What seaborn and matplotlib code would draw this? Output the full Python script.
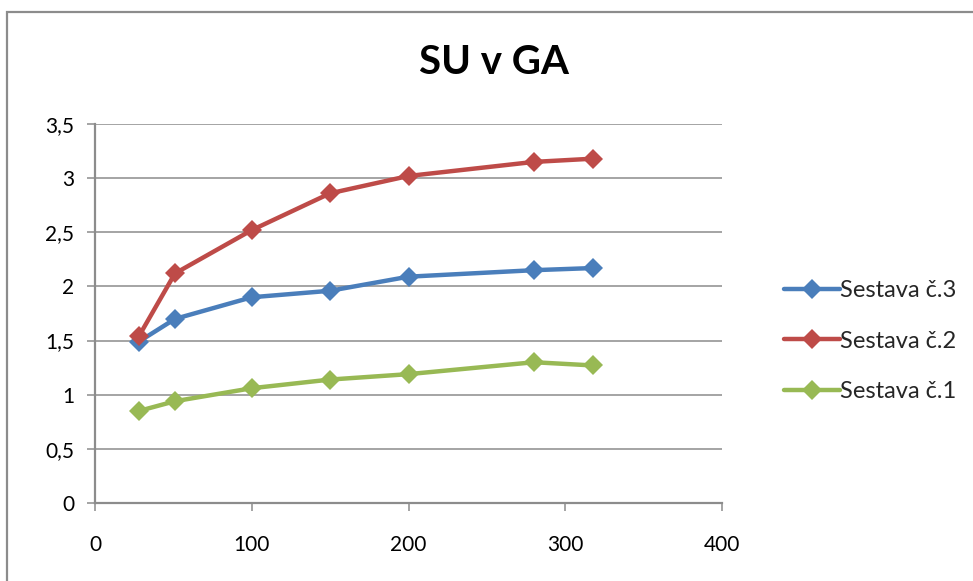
import matplotlib
matplotlib.use("Agg")
import matplotlib.pyplot as plt
from matplotlib.patches import Rectangle
from matplotlib.ticker import FuncFormatter, MultipleLocator
import pandas as pd
import seaborn as sns

# Data
x_values = [28, 51, 100, 150, 200, 280, 318]
sestava_3 = [1.49, 1.70, 1.90, 1.96, 2.09, 2.15, 2.17]
sestava_2 = [1.54, 2.12, 2.52, 2.86, 3.02, 3.15, 3.18]
sestava_1 = [0.85, 0.94, 1.06, 1.14, 1.19, 1.30, 1.27]
series_names = ["Sestava č.3", "Sestava č.2", "Sestava č.1"]
series_colors = ["#4A7EBB", "#BE4B48", "#98B954"]
title_text = "SU v GA"

df = pd.concat([
    pd.DataFrame({"x": x_values, "y": vals, "serie": name})
    for name, vals in zip(series_names, [sestava_3, sestava_2, sestava_1])
], ignore_index=True)

sns.set_theme(style="white")
plt.rcParams["font.family"] = ["Lato", "DejaVu Sans"]

fig = plt.figure(figsize=(9.73, 5.81), dpi=100)
ax = fig.add_axes([95 / 973, 1 - 503 / 581, (722 - 95) / 973, (503 - 124) / 581])

grid_c = "#8C8C8C"
sns.lineplot(data=df, x="x", y="y", hue="serie", hue_order=series_names,
             palette=series_colors, marker="D", markersize=10, linewidth=3.2,
             markeredgewidth=0, ax=ax, sort=False)

ax.set_xlim(0, 400)
ax.set_ylim(0, 3.5)
ax.xaxis.set_major_locator(MultipleLocator(100))
ax.yaxis.set_major_locator(MultipleLocator(0.5))
ax.yaxis.set_major_formatter(FuncFormatter(lambda v, p: f"{v:g}".replace(".", ",")))
ax.set_xlabel("")
ax.set_ylabel("")

ax.grid(axis="y", color=grid_c, linewidth=1.1)
ax.grid(axis="x", visible=False)
ax.set_axisbelow(True)
for side in ["top", "right"]:
    ax.spines[side].set_visible(False)
for side in ["left", "bottom"]:
    ax.spines[side].set_color(grid_c)
    ax.spines[side].set_linewidth(1.6)
ax.tick_params(axis="both", which="major", direction="out", length=6, width=1.1,
               color=grid_c, labelsize=15, labelcolor="black")
ax.tick_params(axis="y", pad=9)
ax.tick_params(axis="x", pad=17)
ax.yaxis.set_tick_params(left=True)
ax.xaxis.set_tick_params(bottom=True)

handles, labels = ax.get_legend_handles_labels()
ax.legend_.remove()
fig.legend(handles, labels, loc="center left", bbox_to_anchor=(775 / 973, 1 - 341 / 581),
           frameon=False, fontsize=17, handlelength=2.35, handletextpad=0.0,
           labelspacing=1.25, borderaxespad=0)

fig.text(494 / 973, 1 - 63 / 581, title_text, ha="center", va="center",
         fontsize=29, fontweight="bold", color="black")

# Chart-area border
fig.patches.append(Rectangle((7 / 973, -0.1), 1.2, 1 - 12.5 / 581 + 0.1,
                             transform=fig.transFigure, fill=False,
                             edgecolor="#8C8C8C", linewidth=1.6))

fig.savefig("out.png", dpi=100)
